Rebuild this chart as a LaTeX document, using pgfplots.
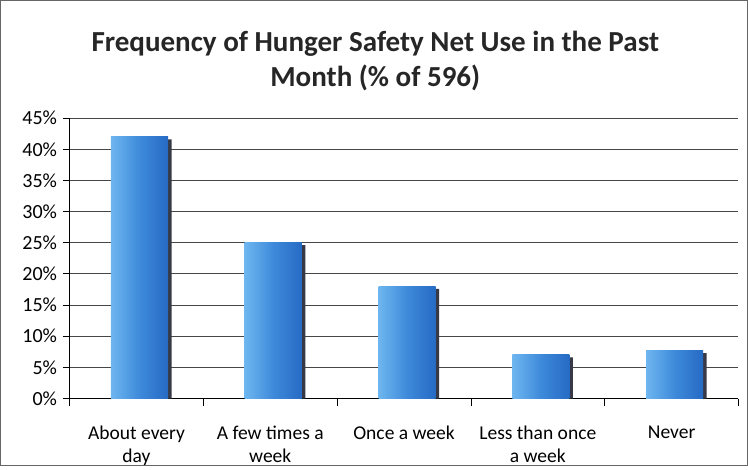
\documentclass[border=0pt]{standalone}
\usepackage{fontspec}
\setmainfont{Carlito}
\usepackage{pgfplots}
\pgfplotsset{compat=1.18}
\definecolor{barblue}{RGB}{62,138,218}
\definecolor{barlight}{RGB}{110,182,240}
\definecolor{bardark}{RGB}{38,106,196}
\definecolor{shadow}{RGB}{55,58,70}
\definecolor{gridc}{RGB}{70,70,70}
\begin{document}
\begin{tikzpicture}
\begin{axis}[
  scale only axis,
  width=668pt, height=280pt,
  xmin=-0.5, xmax=4.5,
  ymin=0, ymax=45,
  no markers,
  xtick={0,1,2,3,4},
  xticklabels={{About every\\day}, {A few times a\\week}, {Once a week}, {Less than once\\a week}, {Never}},
  x tick label style={align=center, font=\fontsize{19.5}{23}\selectfont, yshift=-17pt, anchor=north},
  minor xtick={-0.5,0.5,1.5,2.5,3.5,4.5},
  ytick={0,5,...,45},
  yticklabel={\pgfmathprintnumber{\tick}\%},
  /pgf/number format/assume math mode=true,
  y tick label style={font=\fontsize{20}{24}\selectfont, xshift=-2pt},
  tick align=outside,
  major tick length=7pt,
  minor tick length=7pt,
  xtick style={draw=none},
  minor x tick style={draw=black, line width=0.8pt},
  ytick style={draw=black, line width=0.8pt},
  ymajorgrids,
  major grid style={draw=gridc, line width=1.1pt},
  axis x line*=bottom,
  axis y line*=left,
  axis line style={line width=0.9pt, draw=black},
  clip=false,
  every axis plot/.append style={ybar, bar width=57pt, bar shift=3pt, draw=none, left color=barlight, right color=bardark, middle color=barblue},
]
\addplot[ybar, bar width=4pt, bar shift=33pt, draw=none, left color=shadow, right color=shadow, middle color=shadow]
  coordinates {(0,41.6) (1,24.6) (2,17.6) (3,6.6) (4,7.3)};
\addplot coordinates {(0,42)};
\addplot coordinates {(1,25)};
\addplot coordinates {(2,18)};
\addplot coordinates {(3,7)};
\addplot coordinates {(4,7.7)};
\node[font=\fontsize{29}{35}\selectfont\bfseries, align=center, text=black!85] at (rel axis cs:0.457,1.205)
  {Frequency of Hunger Safety Net Use in the Past\\Month (\% of 596)};
\draw[black!60, line width=1pt] (rel axis cs:-0.1033,-0.2375) rectangle (rel axis cs:1.0135,1.4196);
\end{axis}
\end{tikzpicture}
\end{document}
